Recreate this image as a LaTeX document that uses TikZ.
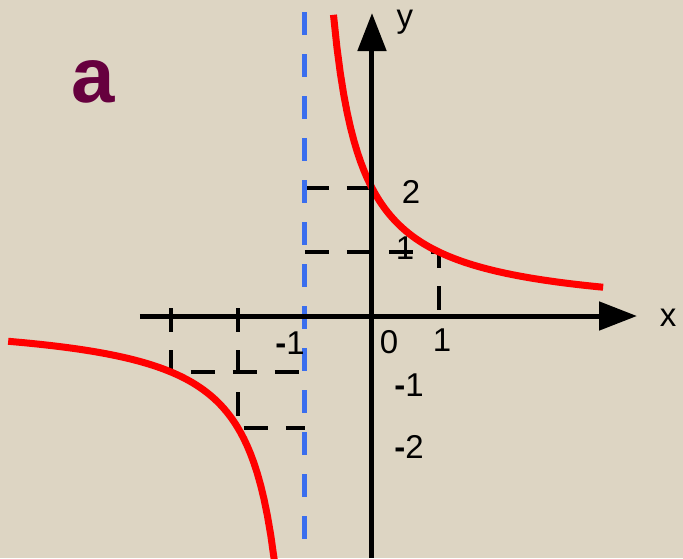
\documentclass[tikz,border=0pt]{standalone}
\usepackage{fontspec}
\setmainfont{Liberation Sans}
\usepackage{xcolor}
\definecolor{parchment}{RGB}{221,213,195}
\definecolor{curvered}{RGB}{255,0,0}
\definecolor{asymblue}{RGB}{58,110,238}
\definecolor{letterplum}{RGB}{102,0,62}
\usepackage{tikz}
\usetikzlibrary{positioning,arrows.meta,calc}
\tikzset{
  axisline/.style={draw=black,line width=5pt,-{Triangle[length=38pt,width=28pt]}},
  helpline/.style={draw=black,line width=4.5pt,dash pattern=on 24pt off 18pt},
  asymline/.style={draw=asymblue,line width=5pt,dash pattern=on 23pt off 19pt},
  hypcurve/.style={draw=curvered,line width=7pt},
  numlbl/.style={font=\fontsize{33}{33}\selectfont,inner sep=0pt,anchor=center},
}
\newcommand{\mns}{{\bfseries -}}

\begin{document}
\begin{tikzpicture}[x=67pt,y=60pt]
  \fill[parchment] (-372pt,-242pt) rectangle (311pt,316pt);
  \useasboundingbox (-372pt,-242pt) rectangle (311pt,316pt);

  \coordinate (o) at (0,0);
  \coordinate (xstart) at (-232pt,0);
  \coordinate (xend) at (265pt,0);
  \coordinate (ystart) at (0,-242pt);
  \coordinate (yend) at (0,303pt);
  \coordinate (atop) at (-1,304pt);
  \coordinate (abot) at (-1,-229pt);

  % upper branch
  \begin{scope}[y=64pt]
    \coordinate (p1) at (0,2);
    \coordinate (p2) at (1,1);
    \draw[helpline] (-1,2) -- (p1);
    \draw[helpline] (-1,1) -- (p2) -- (1,0);
  \end{scope}
  % lower branch
  \begin{scope}[y=56pt]
    \coordinate (p3) at (-2,-2);
    \coordinate (p4) at (-3,-1);
    \draw[helpline] (-3,8pt) -- (p4) -- (-1,-1);
    \draw[helpline] (-2,8pt) -- (p3) -- (-1,-2);
  \end{scope}

  \draw[asymline] (atop) -- (abot);

  \begin{scope}[y=64pt]
    \draw[hypcurve] plot[domain=-0.575:3.45,samples=80] (\x,{2/(\x+1)});
  \end{scope}
  \begin{scope}[y=56pt]
    \draw[hypcurve] plot[domain=-5.43:-1.46,samples=80] (\x,{2/(\x+1)});
  \end{scope}

  \draw[axisline] (xstart) -- (xend);
  \draw[axisline] (ystart) -- (yend);

  \node[numlbl] (xlbl) at (296pt,-2pt) {x};
  \node[numlbl] (ylbl) at (33pt,294pt) {y};
  \node[numlbl] (zero) at (17pt,-26pt) {0};
  \node[numlbl] (xone) at (70pt,-24pt) {1};
  \node[numlbl] (xmone) at (-82pt,-27pt) {\mns1};
  \node[numlbl] (ytwo) at (39pt,124pt) {2};
  \node[numlbl] (yone) at (33pt,68pt) {1};
  \node[numlbl] (ymone) at (37pt,-69pt) {\mns1};
  \node[numlbl] (ymtwo) at (37pt,-131pt) {\mns2};
  \node[inner sep=0pt,text=letterplum,font=\fontsize{78}{78}\selectfont\bfseries] (tag) at (-279pt,234pt) {a};
\end{tikzpicture}
\end{document}
